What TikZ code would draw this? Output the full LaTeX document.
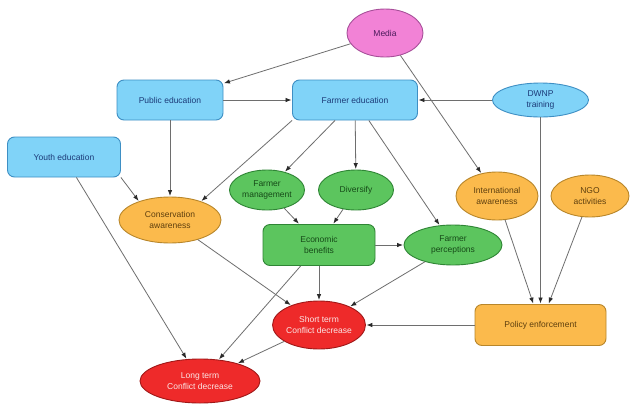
\documentclass[tikz,border=0pt]{standalone}
\usepackage{fontspec}
\setmainfont{Liberation Sans}
\usetikzlibrary{shapes.geometric,arrows.meta}
\definecolor{bluefill}{HTML}{80D3F8}
\definecolor{blueline}{HTML}{3E8FC4}
\definecolor{bluetext}{HTML}{1C3A78}
\definecolor{pinkfill}{HTML}{F282D6}
\definecolor{pinkline}{HTML}{A8509A}
\definecolor{pinktext}{HTML}{4A1A5A}
\definecolor{orfill}{HTML}{FBBA4C}
\definecolor{orline}{HTML}{B8862A}
\definecolor{ortext}{HTML}{5E3F0E}
\definecolor{grfill}{HTML}{5CC55E}
\definecolor{grline}{HTML}{2F8535}
\definecolor{grtext}{HTML}{164A18}
\definecolor{redfill}{HTML}{EE2A2A}
\definecolor{redline}{HTML}{A01818}
\definecolor{redtext}{HTML}{FBE6E6}
\definecolor{edgecol}{HTML}{6E6E6E}
\definecolor{tipcol}{HTML}{2A2A2A}
\begin{document}
\begin{tikzpicture}[x=1pt,y=-1pt,
  base/.style={font=\fontsize{8.5}{11}\selectfont, align=center, inner sep=0pt, line width=0.9pt},
  rbox/.style={base, rectangle, rounded corners=7pt},
  oval/.style={base, ellipse},
  bluen/.style={fill=bluefill, draw=blueline, text=bluetext},
  pinkn/.style={fill=pinkfill, draw=pinkline, text=pinktext},
  orn/.style={fill=orfill, draw=orline, text=ortext},
  grn/.style={fill=grfill, draw=grline, text=grtext},
  redn/.style={fill=redfill, draw=redline, text=redtext},
  link/.style={draw=edgecol, line width=0.8pt, -{Latex[length=6pt,width=4.5pt,color=tipcol]}, shorten >=0.5pt}
]
\fill[white] (0,0) rectangle (630,405);
\useasboundingbox (0,0) rectangle (630,405);

\node[oval, pinkn, minimum width=76pt, minimum height=48pt] (media) at (385,33) {Media};
\node[rbox, bluen, minimum width=106pt, minimum height=40pt] (pub) at (170,100) {Public education};
\node[rbox, bluen, minimum width=125pt, minimum height=40pt] (fe) at (355,100) {Farmer education};
\node[oval, bluen, minimum width=96pt, minimum height=34pt] (dwnp) at (540.5,100) {DWNP\\training};
\node[rbox, bluen, minimum width=113pt, minimum height=40pt] (youth) at (64,157) {Youth education};
\node[oval, orn, minimum width=102pt, minimum height=46pt] (cons) at (170,220) {Conservation\\awareness};
\node[oval, grn, minimum width=75pt, minimum height=40pt] (fm) at (267,190) {Farmer\\management};
\node[oval, grn, minimum width=75pt, minimum height=40pt] (div) at (356,190) {Diversify};
\node[oval, orn, minimum width=82pt, minimum height=48pt] (intl) at (497,196) {International\\awareness};
\node[oval, orn, minimum width=78pt, minimum height=42pt] (ngo) at (590,196) {NGO\\activities};
\node[rbox, grn, minimum width=112pt, minimum height=41pt] (econ) at (319,245) {Economic\\benefits};
\node[oval, grn, minimum width=98pt, minimum height=40pt] (perc) at (453,245) {Farmer\\perceptions};
\node[oval, redn, minimum width=90pt, minimum height=48pt] (short) at (319,325) {Short term\\Conflict decrease};
\node[rbox, orn, minimum width=131pt, minimum height=41pt] (policy) at (540.5,325) {Policy enforcement};
\node[oval, redn, minimum width=120pt, minimum height=44pt] (long) at (200,381) {Long term\\Conflict decrease};

\draw[link] (media) -- (pub);
\draw[link] (media) -- (intl);
\draw[link] (pub) -- (fe);
\draw[link] (dwnp) -- (fe);
\draw[link] (dwnp) -- (policy);
\draw[link] (pub) -- (cons);
\draw[link] (youth.south east) -- (cons.149);
\draw[link] (fe.south west) -- (cons.31);
\draw[link] (fe) -- (fm);
\draw[link] (fe) -- (div);
\draw[link] (fe) -- (perc);
\draw[link] (fm) -- (econ);
\draw[link] (div) -- (econ);
\draw[link] (econ) -- (perc);
\draw[link] (youth) -- (long);
\draw[link] (cons) -- (short);
\draw[link] (econ) -- (short);
\draw[link] (econ) -- (long);
\draw[link] (perc) -- (short);
\draw[link] (policy) -- (short);
\draw[link] (short) -- (long);
\draw[link] (intl) -- (policy);
\draw[link] (ngo) -- (policy);
\end{tikzpicture}
\end{document}
